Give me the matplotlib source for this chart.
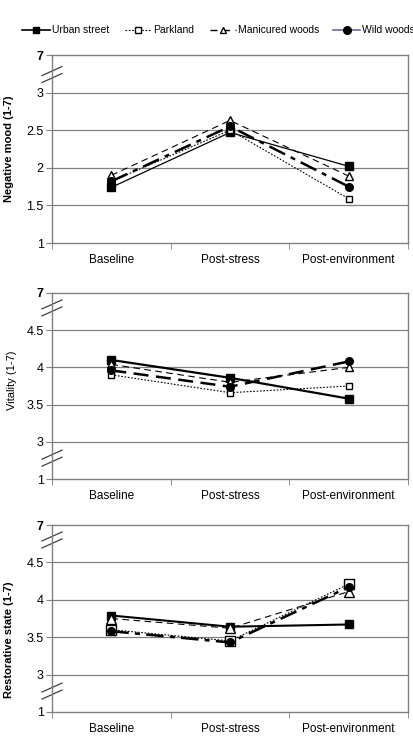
import matplotlib
matplotlib.use("Agg")
import matplotlib.pyplot as plt
from matplotlib.lines import Line2D

plt.rcParams['font.family'] = ['Liberation Sans', 'DejaVu Sans']

categories = ["Baseline", "Post-stress", "Post-environment"]
series = ["Urban street", "Parkland", "Manicured woods", "Wild woods"]

# Negative mood
neg_urban = [1.74, 2.47, 2.02]
neg_park = [1.82, 2.50, 1.59]
neg_manic = [1.90, 2.63, 1.89]
neg_wild = [1.82, 2.55, 1.75]

# Vitality
vit_urban = [4.10, 3.86, 3.58]
vit_park = [3.90, 3.66, 3.75]
vit_manic = [4.04, 3.80, 4.00]
vit_wild = [3.96, 3.74, 4.08]

# Restorative state
res_urban = [3.79, 3.64, 3.67]
res_park = [3.60, 3.45, 4.21]
res_manic = [3.75, 3.62, 4.11]
res_wild = [3.58, 3.43, 4.17]

W, H = 414, 751
fig = plt.figure(figsize=(W / 100, H / 100), dpi=100)

def add_ax(left, top, right, bottom):
    return fig.add_axes([left / W, 1 - bottom / H, (right - left) / W, (bottom - top) / H])

GRID = '#808080'
markers = {
    "Urban street": dict(marker='s', mfc='black', mec='black'),
    "Parkland": dict(marker='s', mfc='white', mec='black'),
    "Manicured woods": dict(marker='^', mfc='white', mec='black'),
    "Wild woods": dict(marker='o', mfc='black', mec='black'),
}

def style_axes(ax, ylim, ticks, labels, ylabel, ylabel_bold, breaks, lab_x, lab_y):
    ax.set_xlim(-0.5, 2.5)
    ax.set_ylim(*ylim)
    ax.set_yticks(ticks)
    ax.set_yticklabels(labels, fontsize=9)
    for t in ax.get_yticklabels():
        if t.get_text() == '7':
            t.set_fontweight('bold')
    ax.set_xticks([0, 1, 2])
    ax.set_xticklabels(categories, fontsize=8.5)
    ax.tick_params(axis='x', length=0, pad=8)
    ax.set_xticks([-0.5, 0.5, 1.5, 2.5], minor=True)
    ax.tick_params(axis='x', which='minor', length=4, color=GRID, direction='out')
    ax.tick_params(axis='y', length=4, color=GRID, direction='out', pad=2)
    for s in ax.spines.values():
        s.set_color(GRID)
        s.set_linewidth(1.0)
    for y in ticks[1:-1]:
        ax.axhline(y, color=GRID, lw=0.9, zorder=0)
    ax.set_ylabel(ylabel, fontsize=8, fontweight='bold' if ylabel_bold else 'normal')
    axw = ax.get_position().width * W
    ax.yaxis.set_label_coords((lab_x - 52) / axw, lab_y)
    # break marks
    axh = ax.get_position().height * H
    for yb in breaks:
        yfrac = (yb - ylim[0]) / (ylim[1] - ylim[0])
        for off in (-3.5, 3.5):
            x0, x1 = -10 / axw, 10 / axw
            y0 = yfrac + (off - 4.5) / axh
            y1 = yfrac + (off + 4.5) / axh
            ax.plot([x0, x1], [y0, y1], color='#404040', lw=0.9,
                    transform=ax.transAxes, clip_on=False)

def draw(ax, data, styles):
    for name, vals in zip(series, data):
        st = styles[name]
        ln, = ax.plot([0, 1, 2], vals, color='black', lw=st['lw'],
                      markersize=st.get('ms', 5.5), zorder=3, **markers[name])
        if st['ls'] is not None:
            ln.set_dashes(st['ls'])

# Panel 1
ax1 = add_ax(52, 55, 408, 243)
style_axes(ax1, (1, 3.5), [1, 1.5, 2, 2.5, 3, 3.5], ['1', '1.5', '2', '2.5', '3', '7'],
           "Negative mood (1-7)", True, [3.24], 14, 0.5)
draw(ax1, [neg_urban, neg_park, neg_manic, neg_wild], {
    "Urban street": dict(lw=0.9, ls=None),
    "Parkland": dict(lw=0.8, ls=(1.5, 1.5), ms=5),
    "Manicured woods": dict(lw=0.8, ls=(6, 4)),
    "Wild woods": dict(lw=1.8, ls=(7, 2.5, 2, 2.5)),
})

# Panel 2
ax2 = add_ax(52, 293, 408, 479)
style_axes(ax2, (2.5, 5.0), [2.5, 3, 3.5, 4, 4.5, 5.0], ['1', '3', '3.5', '4', '4.5', '7'],
           "Vitality (1-7)", False, [4.8, 2.78], 17, 0.53)
draw(ax2, [vit_urban, vit_park, vit_manic, vit_wild], {
    "Urban street": dict(lw=1.6, ls=None),
    "Parkland": dict(lw=0.8, ls=(1.5, 1.5), ms=5),
    "Manicured woods": dict(lw=0.8, ls=(6, 4)),
    "Wild woods": dict(lw=1.8, ls=(6, 3)),
})

# Panel 3
ax3 = add_ax(52, 525, 408, 712)
style_axes(ax3, (2.5, 5.0), [2.5, 3, 3.5, 4, 4.5, 5.0], ['1', '3', '3.5', '4', '4.5', '7'],
           "Restorative state (1-7)", True, [4.8, 2.78], 14, 0.385)
draw(ax3, [res_urban, res_park, res_manic, res_wild], {
    "Urban street": dict(lw=1.5, ls=None),
    "Parkland": dict(lw=0.8, ls=(1.5, 1.5), ms=6.5),
    "Manicured woods": dict(lw=0.8, ls=(6, 4), ms=6.5),
    "Wild woods": dict(lw=1.8, ls=(7, 2.5, 2, 2.5)),
})

# Legend (manually placed entries)
leg_y = 1 - 30 / H
leg_items = [
    (22, 50, dict(color='black', lw=1.2, marker='s', mfc='black', mec='black', markersize=5)),
    (125, 151, dict(color='black', lw=0.8, ls=(0, (1.5, 1.5)), marker='s', mfc='white', mec='black', markersize=4.5)),
    (210, 236, dict(color='black', lw=1.0, ls=(0, (5, 4)), marker='^', mfc='white', mec='black', markersize=5)),
    (333, 360, dict(color='#6a6aa8', lw=1.2, marker='o', mfc='black', mec='black', markersize=5.5)),
]
for name, (x0, x1, kw) in zip(series, leg_items):
    mk = {k: kw.pop(k) for k in ['marker', 'mfc', 'mec', 'markersize']}
    fig.add_artist(Line2D([x0 / W, x1 / W], [leg_y, leg_y], transform=fig.transFigure, **kw))
    fig.add_artist(Line2D([(x0 + x1) / 2 / W], [leg_y], transform=fig.transFigure,
                          color='black', lw=0, **mk))
    fig.text((x1 + 2.5) / W, leg_y, name, fontsize=7.5, va='center', ha='left')

fig.savefig("out.png", dpi=100)
